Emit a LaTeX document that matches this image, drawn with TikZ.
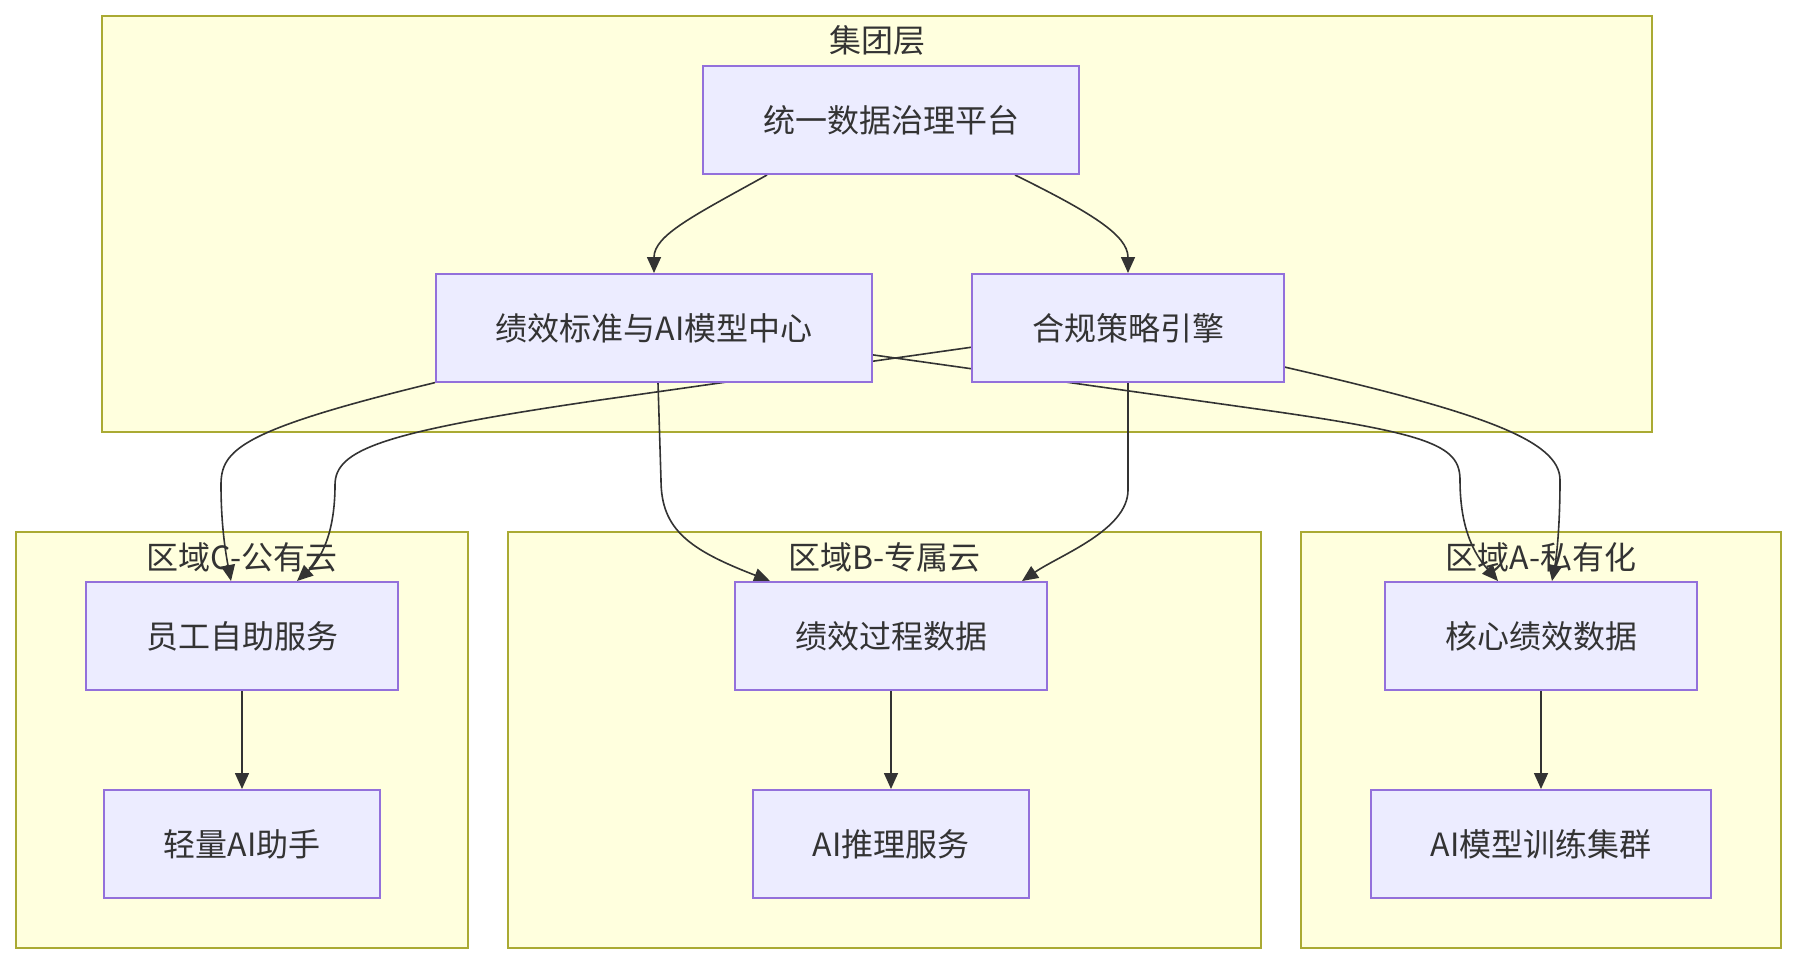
\documentclass[tikz,border=0pt]{standalone}
\usepackage{fontspec}
\setmainfont{Noto Sans CJK SC}
\usetikzlibrary{arrows.meta,calc}
\definecolor{nodefill}{HTML}{ECECFF}
\definecolor{nodeline}{HTML}{9370DB}
\definecolor{clfill}{HTML}{FFFFDE}
\definecolor{clline}{HTML}{AAAA33}
\definecolor{txt}{HTML}{333333}
\pgfdeclarelayer{bg}
\pgfdeclarelayer{edges}
\pgfsetlayers{bg,edges,main}
\begin{document}
\begin{tikzpicture}[x=1pt,y=-1pt,
  box/.style={draw=nodeline, fill=nodefill, line width=2pt, minimum height=108pt, inner sep=0pt, text=txt, font=\fontsize{32}{38}\selectfont},
  cluster/.style={draw=clline, fill=clfill, line width=2pt},
  ctitle/.style={text=txt, font=\fontsize{32}{38}\selectfont, inner sep=0pt},
  edge/.style={draw=txt, line width=1.6pt, -{Triangle[length=16pt,width=14pt]}}]
\useasboundingbox (0,0) rectangle (1796,964);

% nodes
\node[box, minimum width=376pt] (gov) at (891,120) {统一数据治理平台};
\node[box, minimum width=436pt] (std) at (654,328) {绩效标准与AI模型中心};
\node[box, minimum width=312pt] (cmp) at (1128,328) {合规策略引擎};
\node[box, minimum width=312pt] (emp) at (242,636) {员工自助服务};
\node[box, minimum width=276pt] (lite) at (242,844) {轻量AI助手};
\node[box, minimum width=312pt] (proc) at (891,636) {绩效过程数据};
\node[box, minimum width=276pt] (infer) at (891,844) {AI推理服务};
\node[box, minimum width=312pt] (core) at (1541,636) {核心绩效数据};
\node[box, minimum width=340pt] (train) at (1541,844) {AI模型训练集群};

\begin{pgfonlayer}{bg}
  \fill[white] (0,0) rectangle (1796,964);
  \path[cluster] (102,16) rectangle (1652,432);
  \path[cluster] (16,532) rectangle (468,948);
  \path[cluster] (508,532) rectangle (1261,948);
  \path[cluster] (1301,532) rectangle (1781,948);
  \node[ctitle] (tg) at (877,40) {集团层};
  \node[ctitle] (tc) at (242,557) {区域C-公有云};
  \node[ctitle] (tb) at (884.5,557) {区域B-专属云};
  \node[ctitle] (ta) at (1541,557) {区域A-私有化};
\end{pgfonlayer}

\begin{pgfonlayer}{edges}
  \draw[edge] ($(gov.south)+(-124,0)$) .. controls (695,215) and (654,235) .. (std.north);
  \draw[edge] ($(gov.south)+(124,0)$) .. controls (1090,212) and (1128,235) .. (cmp.north);
  \draw[edge] (std.194) .. controls (240,430) and (221,450) .. (221,485)
     .. controls (221,530) and (227,560) .. ($(emp.north)+(-11,0)$);
  \draw[edge] (cmp.187) -- (600,400) .. controls (380,432) and (335,450) .. (335,485)
     .. controls (335,535) and (320,560) .. ($(emp.north)+(55,0)$);
  \draw[edge] ($(std.south)+(4,0)$) -- (661,480) .. controls (661,530) and (690,550) .. ($(proc.north)+(-121,0)$);
  \draw[edge] (cmp.south) -- (1128,490) .. controls (1128,530) and (1060,555) .. ($(proc.north)+(131,0)$);
  \draw[edge] (std.353) -- (1250,408) .. controls (1430,433) and (1460,445) .. (1460,480)
     .. controls (1460,530) and (1475,555) .. ($(core.north)+(-43,0)$);
  \draw[edge] (cmp.346) .. controls (1480,412) and (1560,440) .. (1560,480)
     .. controls (1560,530) and (1556,560) .. ($(core.north)+(11,0)$);
  \draw[edge] (emp.south) -- (lite.north);
  \draw[edge] (proc.south) -- (infer.north);
  \draw[edge] (core.south) -- (train.north);
\end{pgfonlayer}
\end{tikzpicture}
\end{document}
